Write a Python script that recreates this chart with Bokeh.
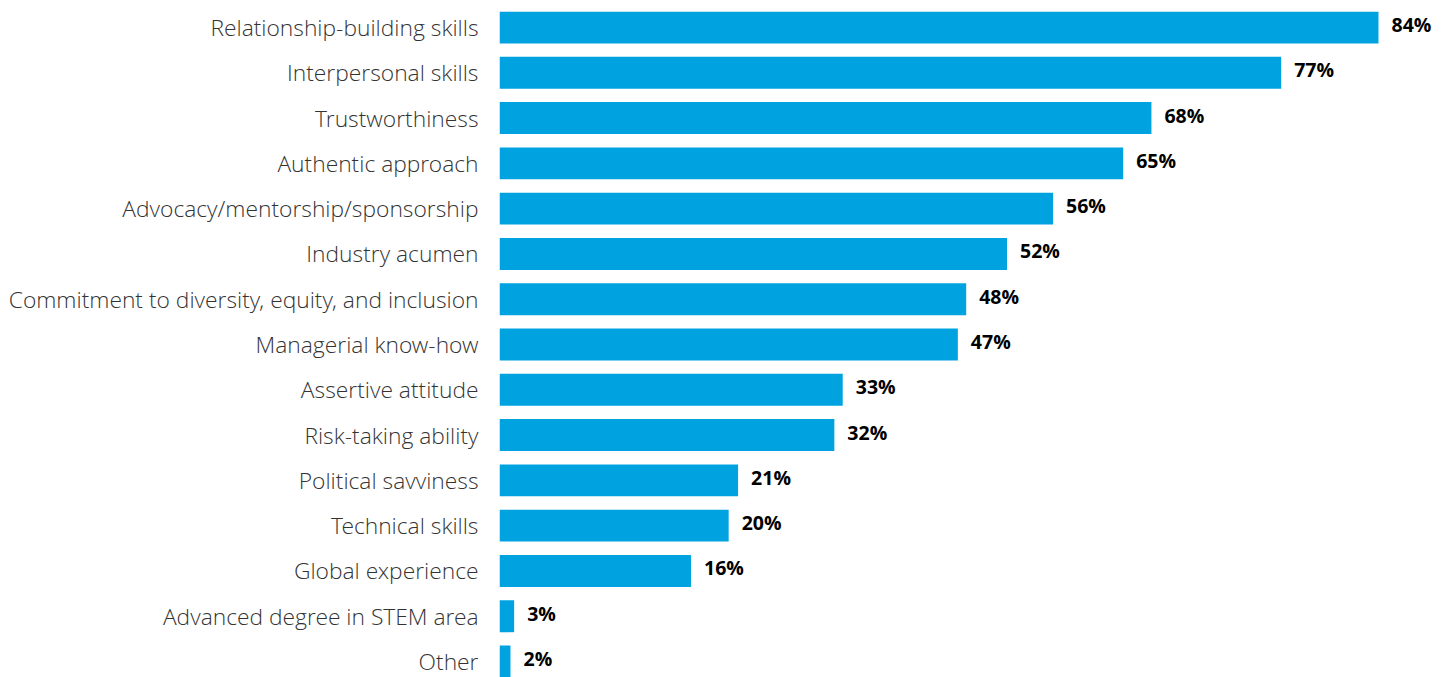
from bokeh.plotting import figure
from bokeh.models import ColumnDataSource, FactorRange, Range1d
from bokeh.core.properties import value
from bokeh.embed import file_html
from bokeh.resources import INLINE

# Categories, top to bottom
categories = [
    "Relationship-building skills",
    "Interpersonal skills",
    "Trustworthiness",
    "Authentic approach",
    "Advocacy/mentorship/sponsorship",
    "Industry acumen",
    "Commitment to diversity, equity, and inclusion",
    "Managerial know-how",
    "Assertive attitude",
    "Risk-taking ability",
    "Political savviness",
    "Technical skills",
    "Global experience",
    "Advanced degree in STEM area",
    "Other",
]

# Percentages printed next to the bars
shares = [84, 77, 68, 65, 56, 52, 48, 47, 33, 32, 21, 20, 16, 3, 2]

# Bar lengths as drawn in the reference (same scale as the 84% bar)
bar_lengths = [84.0, 74.7, 62.3, 59.6, 52.9, 48.5, 44.6, 43.8, 32.8, 32.0,
               22.8, 21.9, 18.3, 1.4, 1.05]

labels = [f"{v}%" for v in shares]

src = ColumnDataSource(dict(cat=categories, bar=bar_lengths, lab=labels))

W, H = 1438, 677
LEFT = 499
TOP = 11
px_per_unit = 879 / 84.0
x_end = (W - LEFT) / px_per_unit

p = figure(
    width=W, height=H,
    y_range=FactorRange(factors=categories[::-1], range_padding=-0.147,
                        range_padding_units="absolute"),
    x_range=Range1d(0, x_end),
    output_backend="svg", toolbar_location=None,
    min_border_left=LEFT, min_border_right=0, min_border_top=TOP, min_border_bottom=0,
)

p.hbar(y="cat", right="bar", left=0, height=0.705, source=src,
       fill_color="#00A3E0", line_color=None)

p.text(x="bar", y="cat", text="lab", source=src, x_offset=13, y_offset=-3,
       text_baseline="middle", text_align="left",
       text_font=value("Open Sans"), text_font_style="bold",
       text_font_size="19.5px", text_color="#000000")

p.xaxis.visible = False
p.xgrid.visible = False
p.ygrid.visible = False
p.outline_line_color = None
p.yaxis.axis_line_color = None
p.yaxis.major_tick_line_color = None
p.yaxis.minor_tick_line_color = None
p.yaxis.major_tick_out = 0
p.yaxis.major_tick_in = 0
p.yaxis.minor_tick_out = 0
p.yaxis.major_label_standoff = 21
p.yaxis.major_label_text_font = "Open Sans Light"
p.yaxis.major_label_text_font_size = "22.8px"
p.yaxis.major_label_text_color = "#333333"

open("out.html", "w").write(file_html(p, INLINE))
